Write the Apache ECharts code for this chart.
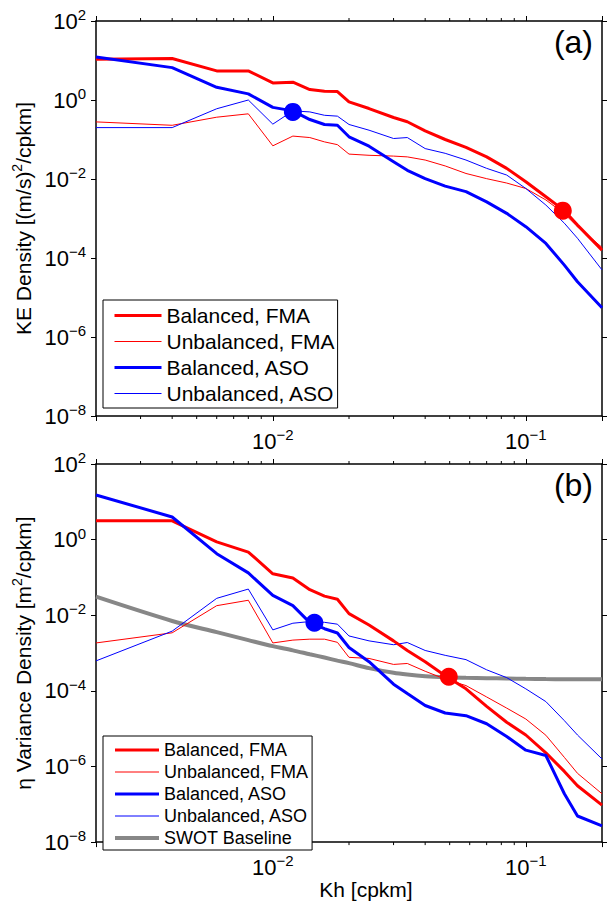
<!DOCTYPE html>
<html><head><meta charset="utf-8">
<script src="https://cdn.jsdelivr.net/npm/echarts@6/dist/echarts.min.js"></script>
<style>html,body{margin:0;padding:0;background:#fff}#c{width:607px;height:901px}</style>
</head><body><div id="c"></div>
<script>
// wavenumbers (cpkm)
const kh = [0.002,0.004,0.006,0.008,0.010,0.012,0.014,0.016,0.018,0.020,0.024,0.030,0.034,0.040,0.048,0.058,0.070,0.084,0.100,0.120,0.142,0.160,0.200];

// Panel (a): KE density
const keBalFMA = [10.7,11.2,5.45,5.45,2.70,2.82,1.84,1.66,1.64,0.895,0.608,0.360,0.282,0.166,0.100,0.0631,0.0363,0.0186,8.5e-3,3.55e-3,1.58e-3,6.8e-4,1.58e-4];
const keUnbFMA = [0.279,0.229,0.367,0.447,0.0692,0.122,0.112,0.087,0.074,0.0427,0.0398,0.038,0.0363,0.0302,0.0214,0.0138,0.0102,7.9e-3,5.75e-3,2.95e-3,1.32e-3,6.2e-4,1.86e-4];
const keBalASO = [12.3,6.6,2.1,1.43,0.65,0.53,0.32,0.24,0.23,0.117,0.0676,0.0275,0.0166,0.0102,6.6e-3,4.8e-3,2.63e-3,1.35e-3,6.2e-4,2.34e-4,6.6e-5,2.5e-5,5.5e-6];
const keUnbASO = [0.2,0.2,0.6,1.0,0.245,0.53,0.5,0.41,0.39,0.24,0.172,0.106,0.112,0.0589,0.0447,0.0302,0.0186,0.0126,5.75e-3,2.19e-3,7.6e-4,3.16e-4,5.0e-5];
const keMarkBlue = [0.012, 0.50];
const keMarkRed = [0.140, 1.58e-3];

// Panel (b): eta variance density
const etaBalFMA = [3.15,3.15,0.873,0.469,0.125,0.097,0.0473,0.032,0.0264,0.011,5.5e-3,2.1e-3,1.17e-3,5.9e-4,2.5e-4,1.13e-4,3.9e-5,1.48e-5,6.8e-6,2.3e-6,7.4e-7,3.1e-7,9.5e-8];
const etaUnbFMA = [1.85e-3,3.43e-3,0.0179,0.0249,1.85e-3,2.2e-3,2.33e-3,2.33e-3,1.92e-3,7.7e-4,7.2e-4,5.0e-4,5.3e-4,3.3e-4,2.04e-4,1.38e-4,6.9e-5,3.5e-5,1.8e-5,6.7e-6,1.74e-6,6.6e-7,1.9e-7];
const etaBalASO = [15.2,3.97,0.425,0.132,0.0334,0.0179,6.4e-3,4.4e-3,3.4e-3,1.4e-3,5.9e-4,1.5e-4,8.5e-5,4.1e-5,2.6e-5,2.2e-5,1.35e-5,6.2e-6,2.7e-6,1.95e-6,1.9e-7,4.9e-8,2.7e-8];
const etaUnbASO = [6.2e-4,3.8e-3,0.028,0.0492,4.1e-3,6.15e-3,6.8e-3,6.5e-3,5.8e-3,2.83e-3,2.1e-3,1.66e-3,1.9e-3,1.17e-3,8.7e-4,6.7e-4,3.6e-4,2.24e-4,1.13e-4,5.2e-5,1.63e-5,6.8e-6,1.58e-6];
const swotBase = [0.0309,7.05e-3,3.57e-3,2.2e-3,1.52e-3,1.18e-3,9.3e-4,7.6e-4,6.3e-4,5.4e-4,4.0e-4,3.0e-4,2.7e-4,2.45e-4,2.3e-4,2.22e-4,2.16e-4,2.12e-4,2.08e-4,2.05e-4,2.04e-4,2.04e-4,2.03e-4];
const etaMarkBlue = [0.0146, 6.3e-3];
const etaMarkRed = [0.0496, 2.37e-4];

const minorK = [0.003,0.004,0.005,0.006,0.007,0.008,0.009,0.02,0.03,0.04,0.05,0.06,0.07,0.08,0.09];
const seriesNames = ['Balanced, FMA','Unbalanced, FMA','Balanced, ASO','Unbalanced, ASO','SWOT Baseline'];

const FONT = '"Liberation Sans", Arial, Helvetica, sans-serif';
const RED = '#ff0000', BLUE = '#0000ff', GRAY = '#878787';

function powLabel(v){
  const e = Math.log10(v); const r = Math.round(e);
  if (Math.abs(e - r) > 1e-6) return '';
  return '{b|10}{s|' + (r < 0 ? '\u2212' + (-r) : r) + '}';
}
const labelRich = {
  b:{fontSize:22, fontFamily:FONT, color:'#000'},
  s:{fontSize:15, fontFamily:FONT, color:'#000', padding:[0,0,13,0]}
};
const nameRich = {
  n:{fontSize:21, fontFamily:FONT, color:'#000'},
  s:{fontSize:14, fontFamily:FONT, color:'#000', padding:[0,0,12,0]}
};

const grids = [
  {left:96, top:21, width:506, height:395},
  {left:96, top:464, width:506, height:397}
];

function xAxes(g, pos, withName){
  return {
    type:'log', gridIndex:g, position:pos, min:0.002, max:0.2,
    axisLine:{show:true, onZero:false, lineStyle:{color:'#000', width:1.5}},
    axisTick:{show:true, length:5, lineStyle:{color:'#000', width:1}},
    axisLabel:{show: pos==='bottom', formatter: powLabel, rich: labelRich, margin:11},
    splitLine:{show:false},
    name: withName ? 'Kh [cpkm]' : '',
    nameLocation:'middle', nameGap:21,
    nameTextStyle:{fontSize:21, fontFamily:FONT, color:'#000', padding:[0,0,0,34]}
  };
}
function yAxes(g, pos, name){
  return {
    type:'log', gridIndex:g, position:pos, min:1e-8, max:100, interval:2,
    axisLine:{show:true, onZero:false, lineStyle:{color:'#000', width:1.5}},
    axisTick:{show:true, length:5, lineStyle:{color:'#000', width:1}},
    axisLabel:{show: pos==='left', formatter: powLabel, rich: labelRich, margin:10},
    splitLine:{show:false},
    name: name || '', nameLocation:'middle', nameGap:58, nameRotate:90,
    nameTextStyle:{rich: nameRich}
  };
}

function toPairs(arr){ return kh.map((k,i)=>[k, arr[i]]); }
// series names are prefixed by panel ("a:" / "b:") so the two legends stay independent
function line(panel, idx, g, arr, color, width, z, smooth){
  return {type:'line', name: panel + ':' + seriesNames[idx], xAxisIndex:g*2, yAxisIndex:g*2, data:toPairs(arr),
    symbol:'none', smooth: smooth || false, lineStyle:{color:color, width:width}, itemStyle:{color:color},
    silent:true, z:z, animation:false};
}
function dot(g, pt, color){
  return {type:'scatter', name:'marker'+g+color, xAxisIndex:g*2, yAxisIndex:g*2, data:[pt],
    symbol:'circle', symbolSize:18, itemStyle:{color:color, opacity:1}, silent:true, z:10, animation:false};
}

const lw = [[RED,3],[RED,1],[BLUE,3],[BLUE,1],[GRAY,4]];
function legendItems(panel, n){
  const out = [];
  for (let i = 0; i < n; i++) {
    out.push({name: panel + ':' + seriesNames[i],
      itemStyle:{color:'rgba(255,255,255,0)', borderWidth:0},
      lineStyle:{color: lw[i][0], width: lw[i][1], opacity:1}});
  }
  return out;
}

const option = {
  backgroundColor:'#fff',
  animation:false,
  grid: grids,
  xAxis: [xAxes(0,'bottom',false), xAxes(0,'top',false), xAxes(1,'bottom',true), xAxes(1,'top',false)],
  yAxis: [yAxes(0,'left','{n|KE Density [(m/s)}{s|2}{n|/cpkm]}'), yAxes(0,'right'),
          yAxes(1,'left','{n|\u03B7 Variance Density [m}{s|2}{n|/cpkm]}'), yAxes(1,'right')],
  legend: [
    {orient:'vertical', selectedMode:false, borderColor:'#000', borderWidth:1, backgroundColor:'#fff', borderRadius:0,
      left:103, top:300, itemWidth:47, itemGap:5, itemHeight:14,
      padding:[5,3,4,10], textStyle:{fontSize:21, fontFamily:FONT, color:'#000'},
      formatter: n => n.slice(2),
      data: legendItems('a', 4)},
    {orient:'vertical', selectedMode:false, borderColor:'#000', borderWidth:1, backgroundColor:'#fff', borderRadius:0,
      left:103, top:736, itemWidth:44, itemGap:4, itemHeight:14,
      padding:[5,4,3,10], textStyle:{fontSize:18, fontFamily:FONT, color:'#000'},
      formatter: n => n.slice(2),
      data: legendItems('b', 5)}
  ],
  series: [
    line('a',0,0,keBalFMA,RED,3,5),
    line('a',1,0,keUnbFMA,RED,1,4),
    line('a',2,0,keBalASO,BLUE,3,5),
    line('a',3,0,keUnbASO,BLUE,1,4),
    dot(0,keMarkBlue,BLUE), dot(0,keMarkRed,RED),
    line('b',4,1,swotBase,GRAY,4,3,0.3),
    line('b',0,1,etaBalFMA,RED,3,5),
    line('b',1,1,etaUnbFMA,RED,1,4),
    line('b',2,1,etaBalASO,BLUE,3,5),
    line('b',3,1,etaUnbASO,BLUE,1,4),
    dot(1,etaMarkBlue,BLUE), dot(1,etaMarkRed,RED)
  ]
};
const chart = echarts.init(document.getElementById('c'), null, {renderer:'svg'});
chart.setOption(option);

// minor ticks + panel labels
const els = [];
[0,1].forEach(g=>{
  const yb = chart.convertToPixel({yAxisIndex:g*2}, 1e-8);
  const yt = chart.convertToPixel({yAxisIndex:g*2}, 100);
  minorK.forEach(k=>{
    const x = chart.convertToPixel({xAxisIndex:g*2}, k);
    els.push({type:'line', shape:{x1:x,y1:yb,x2:x,y2:yb+3}, style:{stroke:'#000', lineWidth:1}, silent:true});
    els.push({type:'line', shape:{x1:x,y1:yt,x2:x,y2:yt-3}, style:{stroke:'#000', lineWidth:1}, silent:true});
  });
});
els.push({type:'text', right:14, top:26, style:{text:'(a)', font:'32px '+FONT, fill:'#000'}, silent:true});
els.push({type:'text', right:14, top:469, style:{text:'(b)', font:'32px '+FONT, fill:'#000'}, silent:true});
chart.setOption({graphic: els});
</script></body></html>
